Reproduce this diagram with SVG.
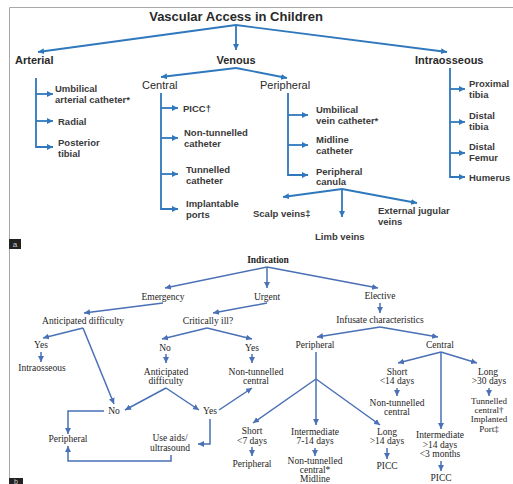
<svg xmlns="http://www.w3.org/2000/svg" width="513" height="484" viewBox="0 0 513 484">
<defs>
<marker id="ma" viewBox="0 0 10 10" refX="10" refY="5" markerWidth="6" markerHeight="6" markerUnits="userSpaceOnUse" orient="auto"><path d="M0,0 L10,5 L0,10 z" fill="#2f78bd"/></marker>
<marker id="mb" viewBox="0 0 10 10" refX="10" refY="5" markerWidth="6" markerHeight="6" markerUnits="userSpaceOnUse" orient="auto"><path d="M0,0 L10,5 L0,10 z" fill="#4a70b5"/></marker>
</defs>
<style>
.ca{fill:none;stroke:#2f78bd;stroke-width:1.8}
.ca .e{marker-end:url(#ma)}
.cb{fill:none;stroke:#4a70b5;stroke-width:1.5}
.cb .e{marker-end:url(#mb)}
.t{font-family:"Liberation Sans",Arial,sans-serif;fill:#2a2a2a}
.h{font-size:11px;font-weight:bold}
.i{font-size:9.5px;font-weight:bold;fill:#3a3a3a}
.s{font-size:11px}
.b{font-family:"Liberation Serif","Times New Roman",serif;font-size:9.5px;fill:#1e1e1e;text-anchor:middle}
.sm{font-size:9px}
</style>
<rect width="513" height="484" fill="#ffffff"/>
<g id="frame" fill="none" stroke="#a8a8a8" stroke-width="1">
<path d="M9.5,478 V7.5 H513"/>
</g>
<g id="label-a"><rect x="9" y="239" width="12" height="10" fill="#222"/><text x="15" y="247" font-family="Liberation Sans,sans-serif" font-size="8" fill="#ccc" text-anchor="middle">a</text></g>
<g id="label-b"><rect x="9" y="478" width="14" height="6" fill="#222"/><text x="16" y="484" font-family="Liberation Sans,sans-serif" font-size="7" fill="#ccc" text-anchor="middle">b</text></g>

<g id="connectors-a" class="ca">
<path class="e" d="M236,25 L38,52"/>
<path class="e" d="M236,25 L447,52"/>
<path class="e" d="M236,25 L236,50"/>
<path class="e" d="M36,78 V147 H53"/>
<path class="e" d="M36,94 H53"/>
<path class="e" d="M36,121 H53"/>
<path class="e" d="M236,68 L161,77"/>
<path class="e" d="M236,68 L287,78"/>
<path class="e" d="M161,93 V209 H178"/>
<path class="e" d="M161,108 H178"/>
<path class="e" d="M161,138 H178"/>
<path class="e" d="M161,174 H178"/>
<path class="e" d="M288,93 V175 H308"/>
<path class="e" d="M288,115 H308"/>
<path class="e" d="M288,145 H308"/>
<path class="e" d="M342,189 L283,197"/>
<path class="e" d="M342,189 L342,217"/>
<path class="e" d="M342,189 L417,203"/>
<path class="e" d="M450,68 V177 H465"/>
<path class="e" d="M450,89 H465"/>
<path class="e" d="M450,122 H465"/>
<path class="e" d="M450,153 H465"/>
</g>

<g id="nodes-a">
<g id="a-title"><text class="t" x="236" y="21" font-size="13" font-weight="bold" text-anchor="middle">Vascular Access in Children</text></g>
<g id="a-arterial"><text class="t h" x="15" y="64">Arterial</text></g>
<g id="a-venous"><text class="t h" x="236" y="64" text-anchor="middle">Venous</text></g>
<g id="a-intraosseous"><text class="t h" x="415" y="64">Intraosseous</text></g>
<g id="a-umb-art"><text class="t i" x="55" y="92">Umbilical</text><text class="t i" x="55" y="103">arterial catheter*</text></g>
<g id="a-radial"><text class="t i" x="58" y="124.5">Radial</text></g>
<g id="a-posterior"><text class="t i" x="58" y="146">Posterior</text><text class="t i" x="58" y="157">tibial</text></g>
<g id="a-central"><text class="t s" x="142" y="89">Central</text></g>
<g id="a-peripheral"><text class="t s" x="260" y="89">Peripheral</text></g>
<g id="a-picc"><text class="t i" x="183" y="111.5">PICC†</text></g>
<g id="a-nontun"><text class="t i" x="184" y="136">Non-tunnelled</text><text class="t i" x="184" y="147">catheter</text></g>
<g id="a-tun"><text class="t i" x="186" y="173">Tunnelled</text><text class="t i" x="186" y="184">catheter</text></g>
<g id="a-ports"><text class="t i" x="186" y="207">Implantable</text><text class="t i" x="186" y="218">ports</text></g>
<g id="a-umb-vein"><text class="t i" x="316" y="113">Umbilical</text><text class="t i" x="316" y="124">vein catheter*</text></g>
<g id="a-midline"><text class="t i" x="316" y="143">Midline</text><text class="t i" x="316" y="154">catheter</text></g>
<g id="a-canula"><text class="t i" x="316" y="175">Peripheral</text><text class="t i" x="316" y="185">canula</text></g>
<g id="a-scalp"><text class="t i" x="253" y="217">Scalp veins‡</text></g>
<g id="a-limb"><text class="t i" x="315" y="240">Limb veins</text></g>
<g id="a-ext"><text class="t i" x="378" y="214">External jugular</text><text class="t i" x="378" y="225">veins</text></g>
<g id="a-prox"><text class="t i" x="469" y="87">Proximal</text><text class="t i" x="469" y="98">tibia</text></g>
<g id="a-dtibia"><text class="t i" x="469" y="119">Distal</text><text class="t i" x="469" y="129.5">tibia</text></g>
<g id="a-femur"><text class="t i" x="469" y="150">Distal</text><text class="t i" x="469" y="160.5">Femur</text></g>
<g id="a-humerus"><text class="t i" x="469" y="180.5">Humerus</text></g>
</g>

<g id="connectors-b" class="cb">
<path class="e" d="M267,267 L165,288"/>
<path class="e" d="M267,267 L267,288"/>
<path class="e" d="M267,267 L378,288"/>
<path class="e" d="M163,303 L84,313"/>
<path class="e" d="M267,303 L213,313"/>
<path class="e" d="M380,303 L380,313"/>
<path class="e" d="M83,328 L43,338"/>
<path class="e" d="M83,328 L114,404"/>
<path class="e" d="M41,352 L41,362"/>
<path class="e" d="M207,328 L162,339"/>
<path class="e" d="M207,328 L252,339"/>
<path class="e" d="M166,354 L166,363"/>
<path class="e" d="M252,354 L252,363"/>
<path class="e" d="M166,388 L125,410"/>
<path class="e" d="M166,388 L199,410"/>
<path class="e" d="M219,410 L252,388"/>
<path class="e" d="M104,411 H68 V434"/>
<path class="e" d="M210,419 V444 H198"/>
<path class="e" d="M171,455 V461 H68 V446"/>
<path class="e" d="M380,327 L317,337"/>
<path class="e" d="M380,327 L438,337"/>
<path d="M316,352 V379"/>
<path class="e" d="M316,379 L253,423"/>
<path class="e" d="M316,379 L316,425"/>
<path class="e" d="M316,379 L380,425"/>
<path class="e" d="M252,447 L252,456"/>
<path class="e" d="M315,448 L315,456"/>
<path class="e" d="M387,448 L387,459"/>
<path class="e" d="M441,352 L398,363"/>
<path class="e" d="M441,352 L477,363"/>
<path class="e" d="M441,352 L441,429"/>
<path class="e" d="M397,388 L397,396"/>
<path class="e" d="M489,388 L489,396"/>
<path class="e" d="M441,461 L441,471"/>
</g>

<g id="nodes-b">
<g id="b-indication"><text class="b" x="268" y="263" font-size="10.5" font-weight="bold">Indication</text></g>
<g id="b-emergency"><text class="b" x="163" y="300">Emergency</text></g>
<g id="b-urgent"><text class="b" x="267" y="300">Urgent</text></g>
<g id="b-elective"><text class="b" x="380" y="299">Elective</text></g>
<g id="b-antdiff1"><text class="b" x="83" y="324">Anticipated difficulty</text></g>
<g id="b-critical"><text class="b" x="208" y="324">Critically ill?</text></g>
<g id="b-infusate"><text class="b" x="380" y="323">Infusate characteristics</text></g>
<g id="b-yes1"><text class="b" x="41" y="348">Yes</text></g>
<g id="b-io"><text class="b" x="42" y="371">Intraosseous</text></g>
<g id="b-no1"><text class="b" x="165" y="351">No</text></g>
<g id="b-yes2"><text class="b" x="252" y="351">Yes</text></g>
<g id="b-periph-i"><text class="b" x="315" y="348">Peripheral</text></g>
<g id="b-central-i"><text class="b" x="440" y="348">Central</text></g>
<g id="b-antdiff2"><text class="b" x="166" y="375">Anticipated</text><text class="b" x="166" y="384">difficulty</text></g>
<g id="b-ntc1"><text class="b" x="256" y="375">Non-tunnelled</text><text class="b" x="256" y="384">central</text></g>
<g id="b-short14"><text class="b" x="397" y="375">Short</text><text class="b" x="397" y="384">&lt;14 days</text></g>
<g id="b-long30"><text class="b" x="488" y="375">Long</text><text class="b" x="489" y="384">&gt;30 days</text></g>
<g id="b-no2"><text class="b" x="114" y="414">No</text></g>
<g id="b-yes3"><text class="b" x="210" y="414">Yes</text></g>
<g id="b-ntc2"><text class="b" x="397" y="406">Non-tunnelled</text><text class="b" x="397" y="415">central</text></g>
<g id="b-tunport"><text class="b sm" x="489" y="404">Tunnelled</text><text class="b sm" x="489" y="413">central†</text><text class="b sm" x="489" y="422">Implanted</text><text class="b sm" x="489" y="431.5">Port‡</text></g>
<g id="b-short7"><text class="b" x="252" y="434">Short</text><text class="b" x="252" y="444">&lt;7 days</text></g>
<g id="b-inter714"><text class="b" x="315" y="435">Intermediate</text><text class="b" x="315" y="444">7-14 days</text></g>
<g id="b-long14"><text class="b" x="387" y="435">Long</text><text class="b" x="387" y="444">&gt;14 days</text></g>
<g id="b-inter3m"><text class="b" x="440" y="438">Intermediate</text><text class="b" x="440" y="448">&gt;14 days</text><text class="b" x="440" y="457">&lt;3 months</text></g>
<g id="b-periph-left"><text class="b" x="68" y="442">Peripheral</text></g>
<g id="b-aids"><text class="b" x="170" y="441">Use aids/</text><text class="b" x="170" y="451">ultrasound</text></g>
<g id="b-periph-short"><text class="b" x="252" y="467">Peripheral</text></g>
<g id="b-ntc-mid"><text class="b" x="315" y="464">Non-tunnelled</text><text class="b" x="315" y="473">central*</text><text class="b" x="315" y="482">Midline</text></g>
<g id="b-picc1"><text class="b" x="387" y="469">PICC</text></g>
<g id="b-picc2"><text class="b" x="441" y="481">PICC</text></g>
</g>
</svg>
